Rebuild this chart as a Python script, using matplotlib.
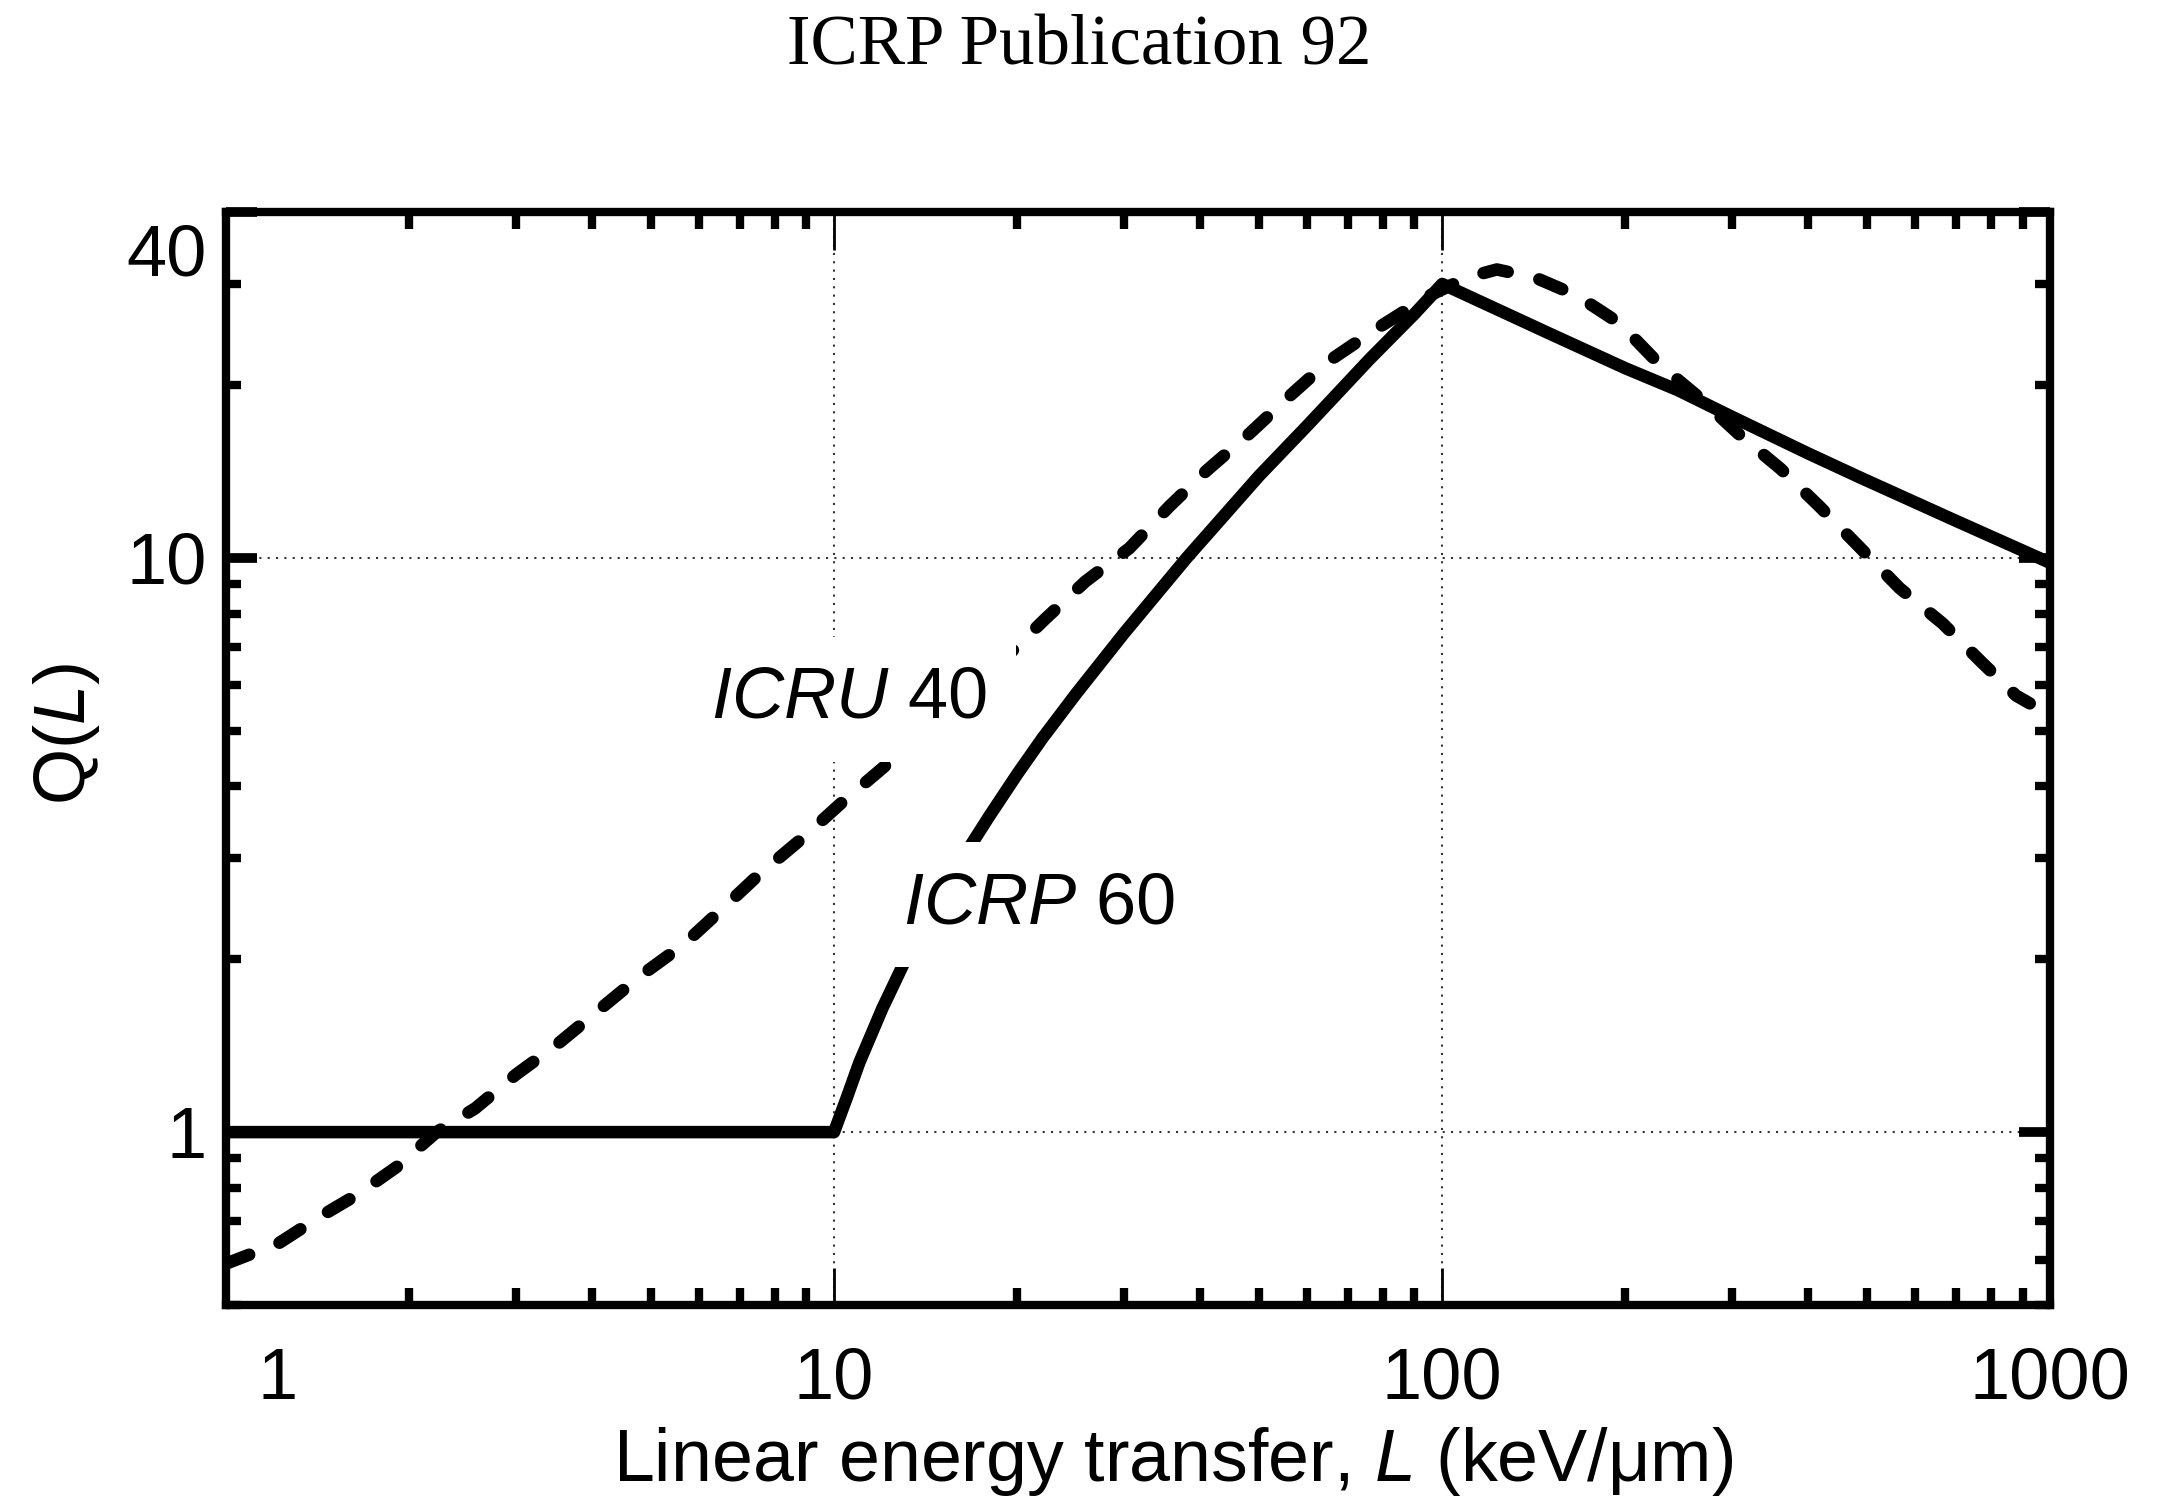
import matplotlib
matplotlib.use("Agg")
import matplotlib.pyplot as plt
import matplotlib.transforms as mtransforms
from matplotlib.ticker import LogLocator, NullFormatter
import numpy as np

plt.rcParams['font.family'] = ['Liberation Sans', 'DejaVu Sans']
plt.rcParams['mathtext.fontset'] = 'custom'
plt.rcParams['mathtext.rm'] = 'Liberation Sans'
plt.rcParams['mathtext.it'] = 'Liberation Sans:italic'

# ICRP 60 Q(L), solid line
icrp60_L = [1, 10, 10.5, 11, 12, 13, 14, 16, 18, 20, 22, 25, 30, 38, 50, 60, 76, 90, 100,
            150, 200, 244, 300, 400, 487, 700, 1000]
icrp60_Q = [1.0, 1.0, 1.15, 1.32, 1.64, 1.96, 2.28, 2.92, 3.55, 4.2, 4.85, 5.8, 7.4, 10.0, 13.9, 17.0, 22.2, 26.6, 30.0,
            24.6, 21.4, 19.6, 17.6, 15.2, 13.8, 11.6, 9.8]

# ICRU 40 Q(L), dashed line
icru40_L = [1, 1.22, 1.42, 1.65, 1.91, 2.22, 2.57, 3.0, 3.5, 4.1, 4.8, 5.65, 6.5, 7.5, 8.9, 10.3,
            12.0, 15.0, 18.0, 22.3, 25.9, 30.6, 35.6, 41, 48, 56.6, 65, 77.7, 95, 110, 123,
            143, 167, 196, 228, 265, 308, 360, 417, 483, 565, 665, 770, 878, 925]
icru40_Q = [0.59, 0.64, 0.71, 0.78, 0.87, 1.0, 1.1, 1.26, 1.42, 1.63, 1.87, 2.12, 2.43, 2.80, 3.26, 3.75,
            4.3, 5.3, 6.3, 7.85, 9.1, 10.4, 12.3, 14.2, 16.4, 19.3, 22.0, 25.0, 28.6, 30.8, 31.8,
            30.7, 28.6, 25.6, 21.7, 19.0, 16.4, 14.3, 12.3, 10.5, 8.86, 7.69, 6.59, 5.76, 5.58]

xticks = [1, 10, 100, 1000]
xticklabels = ['1', '10', '100', '1000']
yticks = [1, 10, 40]
yticklabels = ['1', '10', '40']

fig = plt.figure(figsize=(21.72, 15.01), dpi=100)
ax = fig.add_axes([0.104, 0.1306, 0.840, 0.728])
ax.set_xscale('log')
ax.set_yscale('log')

ax.plot(icru40_L, icru40_Q, color='k', lw=9, ls=(0, (2.0, 2.6)), dash_capstyle='round', zorder=3)
ax.plot(icrp60_L, icrp60_Q, color='k', lw=9, solid_capstyle='round', solid_joinstyle='round', zorder=3)

ax.set_xlim(1, 1000)
ax.set_ylim(0.5, 40)

ax.set_xticks(xticks, xticklabels)
ax.set_yticks(yticks, yticklabels)
ax.xaxis.set_minor_locator(LogLocator(base=10, subs=np.arange(2, 10)))
ax.yaxis.set_minor_locator(LogLocator(base=10, subs=np.arange(2, 10)))
ax.xaxis.set_minor_formatter(NullFormatter())
ax.yaxis.set_minor_formatter(NullFormatter())

ax.grid(True, which='major', ls=(0, (1, 3)), lw=1.5, color='0.2')

ax.tick_params(which='both', direction='in', top=True, right=True, colors='k')
ax.tick_params(axis='x', which='major', length=27, width=2, pad=30, labelsize=52)
ax.tick_params(axis='x', which='minor', length=12, width=6)
ax.tick_params(axis='y', which='major', length=22, width=7, pad=14, labelsize=52)
ax.tick_params(axis='y', which='minor', length=11, width=6)
for s in ax.spines.values():
    s.set_linewidth(6)

# shift the "1" and "40" labels like in the original
lbl = ax.get_xticklabels()[0]
lbl.set_transform(lbl.get_transform() + mtransforms.ScaledTranslation(0.52, 0, fig.dpi_scale_trans))
lbl = ax.get_yticklabels()[2]
lbl.set_transform(lbl.get_transform() + mtransforms.ScaledTranslation(0, -0.37, fig.dpi_scale_trans))

box = dict(boxstyle='square,pad=0.4', fc='white', ec='none')
ax.text(6.27, 5.27, r'$\mathit{ICRU}$ 40', fontsize=52, ha='left', va='baseline', bbox=box, zorder=5)
ax.text(13.0, 2.31, r'$\mathit{ICRP}$ 60', fontsize=52, ha='left', va='baseline', bbox=box, zorder=5)

fig.text(0.540, 0.0266, r'Linear energy transfer, $\mathit{L}$ (keV/μm)', fontsize=53, ha='center', va='center')
fig.text(0.0306, 0.511, r'Q($\mathit{L}$)', fontsize=52, rotation=90, ha='center', va='center')
fig.text(0.497, 0.969, 'ICRP Publication 92', family='Liberation Serif', fontsize=51, ha='center', va='center')

fig.savefig('out.png', dpi=100)
